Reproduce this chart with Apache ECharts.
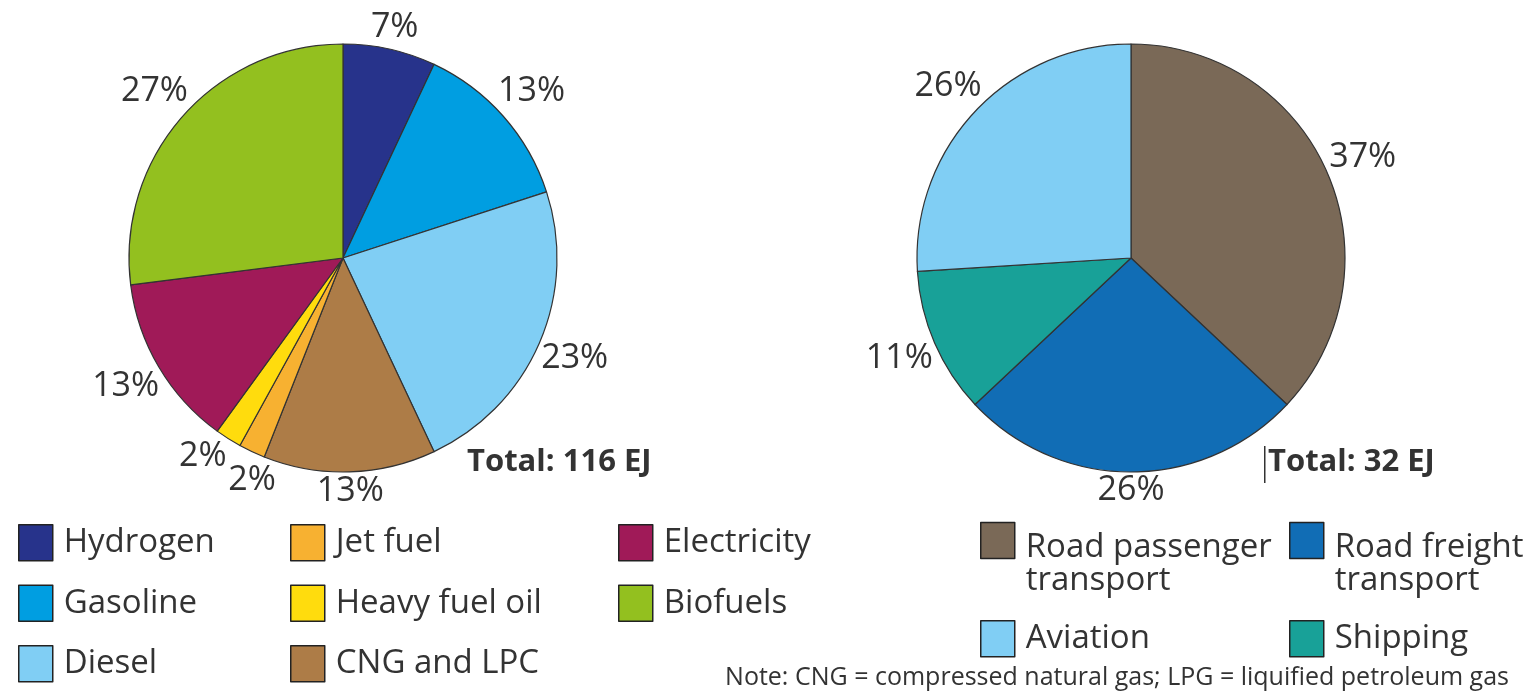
<!DOCTYPE html>
<html>
<head>
<meta charset="utf-8">
<title>Transport energy by fuel and by mode</title>
<script src="https://cdn.jsdelivr.net/npm/echarts@6/dist/echarts.min.js"></script>
<style>
html, body { margin: 0; padding: 0; background: #fff; }
#main { width: 1527px; height: 697px; }
</style>
</head>
<body>
<div id="main"></div>
<script>
// left pie: final energy by fuel, % of total, clockwise from 12 o'clock
var fuelNames = ["Hydrogen", "Gasoline", "Diesel", "CNG and LPC", "Jet fuel", "Heavy fuel oil", "Electricity", "Biofuels"];
var fuelShares = [7, 13, 23, 13, 2, 2, 13, 27];
var fuelColors = ["#27338b", "#009ee1", "#80cef4", "#ad7c47", "#f7b131", "#ffdc0d", "#a01a58", "#93c01f"];

// right pie: by transport mode
var modeNames = ["Road passenger transport", "Road freight transport", "Shipping", "Aviation"];
var modeShares = [37, 26, 11, 26];
var modeColors = ["#7a6957", "#116db5", "#18a198", "#80cef4"];

// legend columns (order as in the key)
var fuelLegendCols = [
    ["Hydrogen", "Gasoline", "Diesel"],
    ["Jet fuel", "Heavy fuel oil", "CNG and LPC"],
    ["Electricity", "Biofuels"]
];
var totals = ["Total: 116 EJ", "Total: 32 EJ"];
var note = "Note: CNG = compressed natural gas; LPG = liquified petroleum gas";

var FONT = "Open Sans";
var TXT = "#333";
var R = 214;
var centers = [[343, 258], [1131, 258]];

// mid angle of every slice (radians, clockwise from top), nudged apart
// when two neighbouring labels would sit on top of each other
function labelAngles(values, minSep) {
    var total = values.reduce(function (a, b) { return a + b; }, 0);
    var acc = 0;
    var a = values.map(function (v) {
        var m = (acc + v / 2) / total * 2 * Math.PI;
        acc += v;
        return m;
    });
    for (var k = 0; k < 5; k++) {
        for (var i = 1; i < a.length; i++) {
            var gap = a[i] - a[i - 1];
            if (gap < minSep) {
                var push = (minSep - gap) / 2;
                a[i - 1] -= push;
                a[i] += push;
            }
        }
    }
    return a;
}

// put each % label just outside its slice
function outsideLabel(c, values) {
    var angles = labelAngles(values, 13 * Math.PI / 180);
    return function (p) {
        var ang = angles[p.dataIndex];
        var ux = Math.sin(ang), uy = -Math.cos(ang);
        var w = p.labelRect.width, h = p.labelRect.height;
        var d = R + 1 + Math.abs(ux) * w / 2 + Math.abs(uy) * h / 2;
        return { x: c[0] + ux * d, y: c[1] + uy * d, align: "center", verticalAlign: "middle" };
    };
}

function pieSeries(name, names, values, colors, c) {
    return {
        name: name,
        type: "pie",
        center: c,
        radius: R,
        startAngle: 90,
        clockwise: true,
        avoidLabelOverlap: false,
        animation: false,
        silent: true,
        itemStyle: { borderColor: "#333", borderWidth: 1.2 },
        label: {
            show: true,
            position: "outside",
            formatter: "{c}%",
            fontFamily: FONT,
            fontSize: 34,
            lineHeight: 26,
            color: TXT
        },
        labelLine: { show: false, length: 4, length2: 0 },
        labelLayout: outsideLabel(c, values),
        data: names.map(function (n, i) {
            return { name: n, value: values[i], itemStyle: { color: colors[i] } };
        })
    };
}

var keyText = { fontFamily: FONT, fontSize: 33, lineHeight: 36, color: TXT, padding: [0, 0, 0, 6] };
var legendBase = {
    orient: "vertical",
    icon: "rect",
    itemWidth: 34,
    itemHeight: 36,
    itemGap: 23,
    padding: 0,
    selectedMode: false,
    itemStyle: { borderColor: "#222", borderWidth: 1.5 },
    textStyle: keyText
};

var legends = [];
var fuelLegendLeft = [18, 290, 618];
fuelLegendCols.forEach(function (col, i) {
    legends.push(Object.assign({}, legendBase, { left: fuelLegendLeft[i], top: 524, data: col }));
});

// right key: two-line items hang below the top of their box
function twoLines(n) {
    var parts = n.split(" transport");
    return "{gap| }\n{t|" + parts[0] + "}\n{t|transport}";
}
var twoLineText = Object.assign({}, keyText, {
    rich: {
        gap: { fontSize: 10, lineHeight: 47 },
        t: { fontFamily: FONT, fontSize: 33, lineHeight: 33, color: TXT }
    }
});
[[modeNames[0], 980, 484, true], [modeNames[1], 1289, 484, true], [modeNames[3], 980, 620, false], [modeNames[2], 1289, 620, false]]
    .forEach(function (it) {
        legends.push(Object.assign({}, legendBase, {
            left: it[1],
            top: it[2],
            data: [it[0]],
            formatter: it[3] ? twoLines : "{name}",
            textStyle: it[3] ? twoLineText : keyText
        }));
    });

var myChart = echarts.init(document.getElementById("main"));
var option = {
    backgroundColor: "#fff",
    animation: false,
    title: [
        { text: totals[0], left: 467, top: 447, padding: 0, textStyle: { fontFamily: FONT, fontSize: 31, fontWeight: "bold", color: TXT } },
        { text: totals[1], left: 1268, top: 447, padding: 0, textStyle: { fontFamily: FONT, fontSize: 31, fontWeight: "bold", color: TXT } },
        { text: note, right: 18, top: 665, padding: 0, textStyle: { fontFamily: FONT, fontSize: 25, fontWeight: "normal", color: TXT } }
    ],
    legend: legends,
    graphic: [
        // stray caret mark before the second total
        { type: "rect", left: 1264, top: 446, shape: { width: 1.5, height: 37 }, style: { fill: "#333" } }
    ],
    series: [
        pieSeries("fuel", fuelNames, fuelShares, fuelColors, centers[0]),
        pieSeries("mode", modeNames, modeShares, modeColors, centers[1])
    ]
};
myChart.setOption(option);
</script>
</body>
</html>
